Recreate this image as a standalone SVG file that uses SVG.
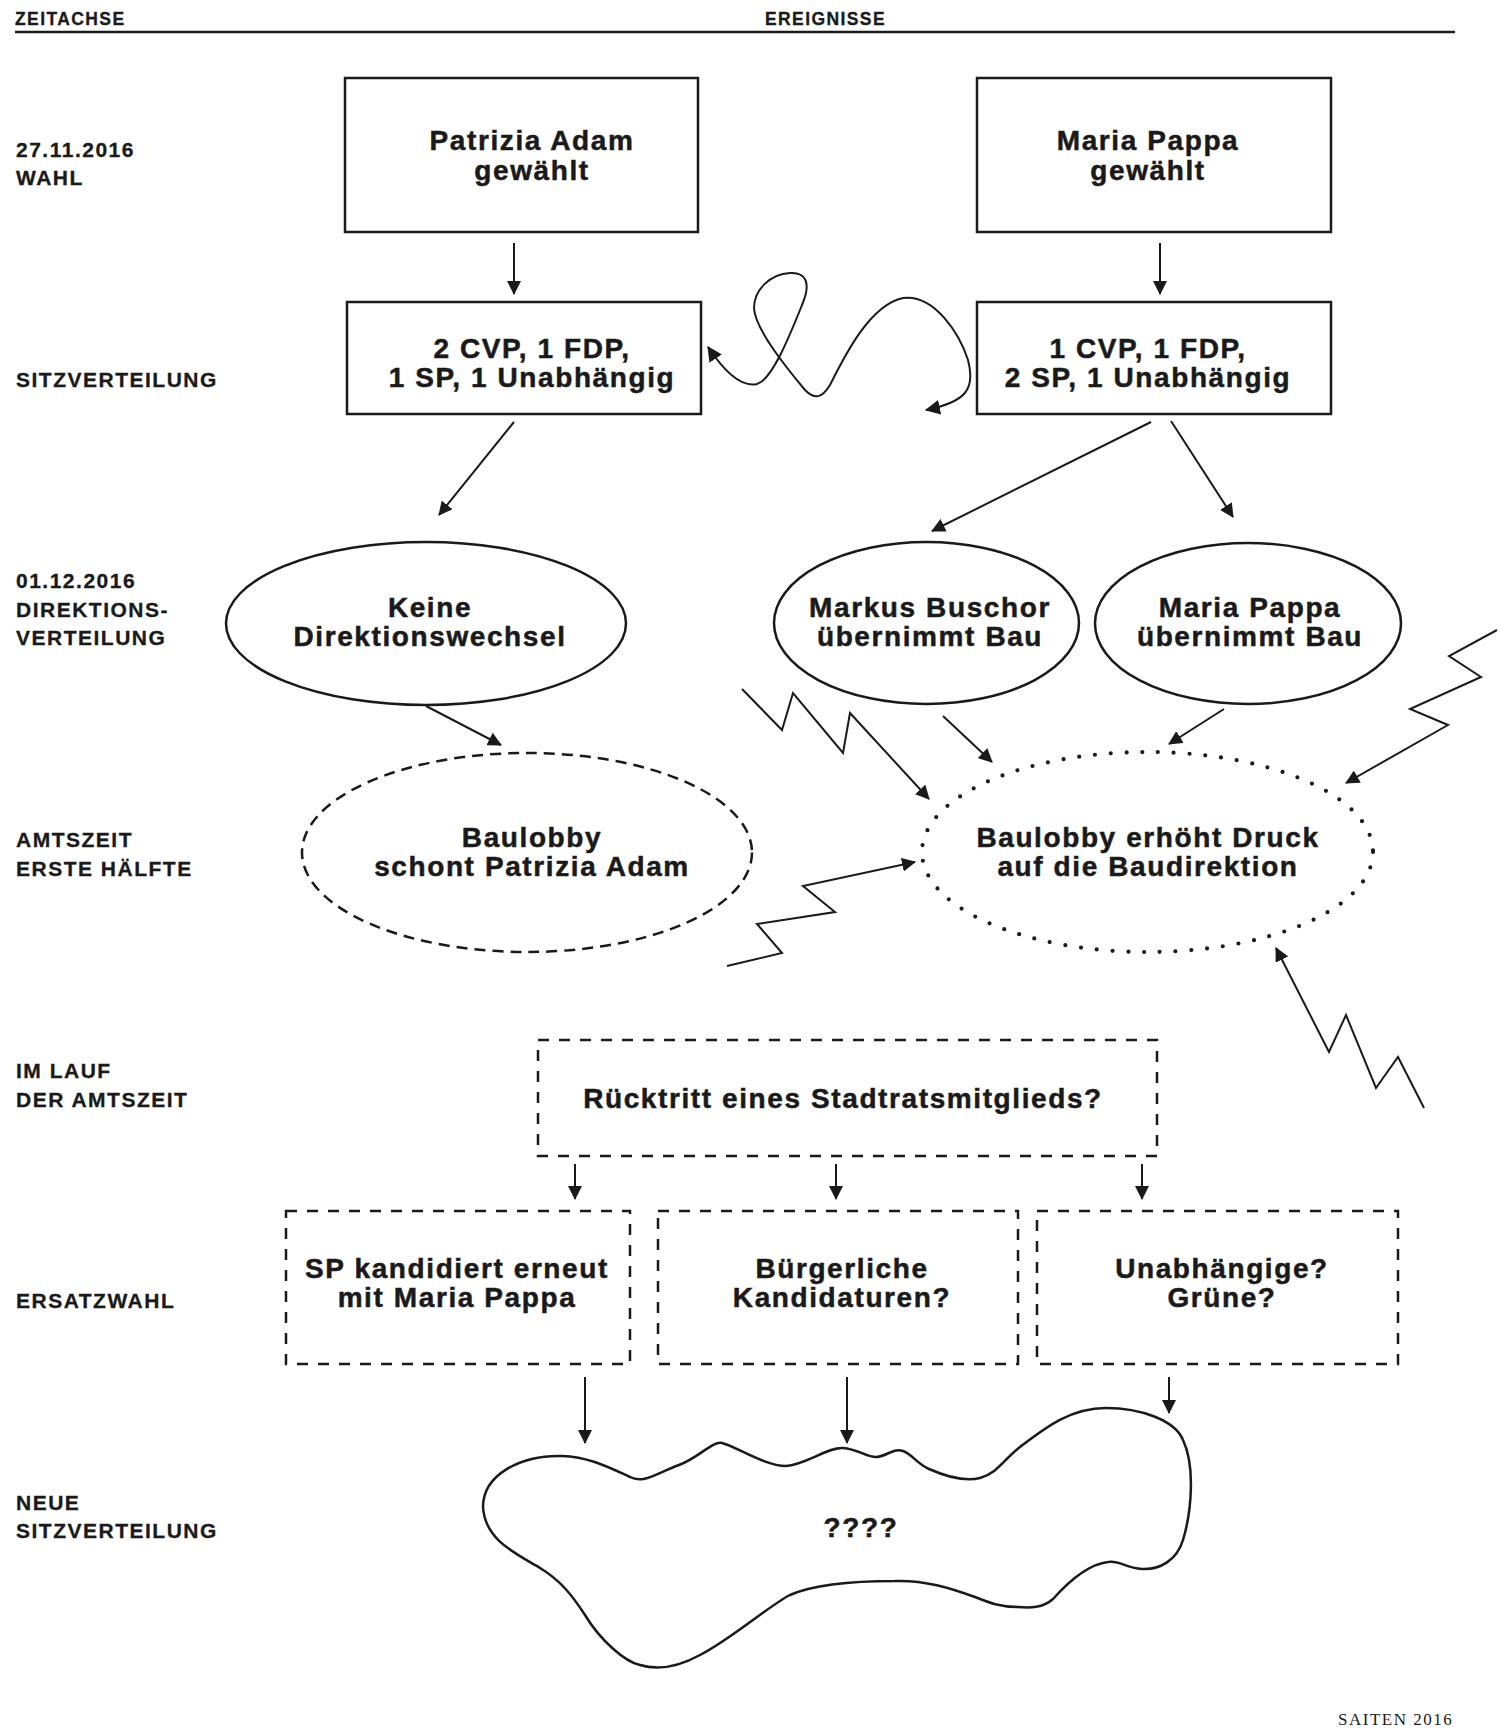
<svg xmlns="http://www.w3.org/2000/svg" width="1500" height="1734" viewBox="0 0 1500 1734">
<style>
  .n { font-family: "Liberation Sans", Arial, sans-serif; font-weight: bold; font-size: 28px; letter-spacing: 1.6px; text-anchor: middle; fill: #1a1a1a; stroke: #1a1a1a; stroke-width: 0.5; }
  .l { font-family: "Liberation Sans", Arial, sans-serif; font-weight: bold; font-size: 21px; letter-spacing: 1.5px; fill: #1a1a1a; stroke: #1a1a1a; stroke-width: 0.3; }
  .h { font-family: "Liberation Sans", Arial, sans-serif; font-weight: bold; font-size: 17.5px; letter-spacing: 1.4px; fill: #1a1a1a; stroke: #1a1a1a; stroke-width: 0.3; }
  .f { font-family: "Liberation Serif", "Times New Roman", serif; font-size: 17px; letter-spacing: 1.5px; fill: #1a1a1a; }
  .box { fill: none; stroke: #1a1a1a; stroke-width: 2.5; }
  .dash { fill: none; stroke: #1a1a1a; stroke-width: 2.5; stroke-dasharray: 11 10; }
  .dashe { fill: none; stroke: #1a1a1a; stroke-width: 2.5; stroke-dasharray: 11 7; }
  .dot { fill: none; stroke: #1a1a1a; stroke-width: 4.2; stroke-linecap: round; stroke-dasharray: 0 15.8; }
  .c { fill: none; stroke: #1a1a1a; stroke-width: 2; marker-end: url(#ah); }
</style>
<defs>
  <marker id="ah" viewBox="0 0 14 14" refX="13" refY="7" markerWidth="14" markerHeight="14" markerUnits="userSpaceOnUse" orient="auto">
    <path d="M0,0 L14,7 L0,14 z" fill="#1a1a1a"/>
  </marker>
  <marker id="ahs" viewBox="0 0 14 14" refX="13" refY="7" markerWidth="15" markerHeight="15" markerUnits="userSpaceOnUse" orient="auto-start-reverse">
    <path d="M0,0 L14,7 L0,14 z" fill="#1a1a1a"/>
  </marker>
</defs>
<rect width="1500" height="1734" fill="#ffffff"/>

<g id="header">
  <text class="h" x="15" y="25">ZEITACHSE</text>
  <text class="h" x="765" y="25">EREIGNISSE</text>
  <line x1="15" y1="32" x2="1455" y2="32" stroke="#1a1a1a" stroke-width="2.5"/>
</g>

<g id="timeline">
  <text class="l" x="16" y="157">27.11.2016</text>
  <text class="l" x="16" y="185">WAHL</text>
  <text class="l" x="16" y="387">SITZVERTEILUNG</text>
  <text class="l" x="16" y="588">01.12.2016</text>
  <text class="l" x="16" y="617">DIREKTIONS-</text>
  <text class="l" x="16" y="645">VERTEILUNG</text>
  <text class="l" x="16" y="847">AMTSZEIT</text>
  <text class="l" x="16" y="876">ERSTE HÄLFTE</text>
  <text class="l" x="16" y="1078">IM LAUF</text>
  <text class="l" x="16" y="1107">DER AMTSZEIT</text>
  <text class="l" x="16" y="1308">ERSATZWAHL</text>
  <text class="l" x="16" y="1510">NEUE</text>
  <text class="l" x="16" y="1538">SITZVERTEILUNG</text>
</g>

<g id="n-adam">
  <rect class="box" x="345" y="78" width="353" height="154"/>
  <text class="n" x="532" y="150">Patrizia Adam</text>
  <text class="n" x="532" y="180">gewählt</text>
</g>
<g id="n-pappa">
  <rect class="box" x="977" y="78" width="354" height="154"/>
  <text class="n" x="1148" y="150">Maria Pappa</text>
  <text class="n" x="1148" y="180">gewählt</text>
</g>
<g id="n-sitz1">
  <rect class="box" x="347" y="302" width="354" height="112"/>
  <text class="n" x="532" y="358">2 CVP, 1 FDP,</text>
  <text class="n" x="532" y="387">1 SP, 1 Unabhängig</text>
</g>
<g id="n-sitz2">
  <rect class="box" x="977" y="302" width="354" height="112"/>
  <text class="n" x="1148" y="358">1 CVP, 1 FDP,</text>
  <text class="n" x="1148" y="387">2 SP, 1 Unabhängig</text>
</g>
<g id="n-keine">
  <ellipse class="box" cx="426" cy="623.5" rx="200" ry="81.5"/>
  <text class="n" x="430" y="617">Keine</text>
  <text class="n" x="430" y="646">Direktionswechsel</text>
</g>
<g id="n-buschor">
  <ellipse class="box" cx="926.5" cy="623" rx="152.5" ry="81"/>
  <text class="n" x="930" y="617">Markus Buschor</text>
  <text class="n" x="930" y="646">übernimmt Bau</text>
</g>
<g id="n-pappabau">
  <ellipse class="box" cx="1248" cy="623.5" rx="153" ry="80.5"/>
  <text class="n" x="1250" y="617">Maria Pappa</text>
  <text class="n" x="1250" y="646">übernimmt Bau</text>
</g>
<g id="n-schont">
  <ellipse class="dashe" cx="527" cy="852.5" rx="225" ry="99.5"/>
  <text class="n" x="532" y="847">Baulobby</text>
  <text class="n" x="532" y="876">schont Patrizia Adam</text>
</g>
<g id="n-druck">
  <ellipse class="dot" cx="1147.5" cy="852" rx="225.5" ry="100"/>
  <text class="n" x="1148" y="847">Baulobby erhöht Druck</text>
  <text class="n" x="1148" y="876">auf die Baudirektion</text>
</g>
<g id="n-ruecktritt">
  <rect class="dash" x="538" y="1040" width="619" height="116"/>
  <text class="n" x="843" y="1108">Rücktritt eines Stadtratsmitglieds?</text>
</g>
<g id="n-sp">
  <rect class="dash" x="286" y="1211" width="344" height="153"/>
  <text class="n" x="457" y="1278">SP kandidiert erneut</text>
  <text class="n" x="457" y="1307">mit Maria Pappa</text>
</g>
<g id="n-buergerlich">
  <rect class="dash" x="658" y="1211" width="360" height="153"/>
  <text class="n" x="842" y="1278">Bürgerliche</text>
  <text class="n" x="842" y="1307">Kandidaturen?</text>
</g>
<g id="n-unabh">
  <rect class="dash" x="1037" y="1211" width="361" height="153"/>
  <text class="n" x="1222" y="1278">Unabhängige?</text>
  <text class="n" x="1222" y="1307">Grüne?</text>
</g>
<g id="n-neu">
  <path class="box" d="M 483 1507 C 483 1475, 520 1455, 562 1456 C 590 1457, 610 1468, 630 1477 C 643 1484, 655 1474, 679 1465 C 700 1457, 712 1441, 722 1443 C 735 1446, 765 1466, 786 1466 C 805 1465, 828 1447, 843 1448 C 858 1449, 868 1458, 877 1457 C 887 1456, 893 1448, 903 1451 C 912 1454, 916 1463, 929 1469 C 945 1476, 965 1482, 980 1478 C 998 1473, 1005 1458, 1020 1447 C 1045 1428, 1070 1408, 1106 1408 C 1140 1408, 1175 1420, 1183 1440 C 1195 1465, 1192 1510, 1183 1540 C 1177 1560, 1160 1570, 1142 1569 C 1125 1568, 1120 1560, 1108 1562 C 1090 1564, 1070 1580, 1053 1599 C 1043 1608, 1030 1608, 1018 1607 C 1000 1607, 990 1603, 975 1597 C 950 1588, 925 1580, 895 1581 C 855 1581, 815 1584, 790 1595 C 770 1605, 730 1640, 700 1655 C 680 1666, 660 1671, 640 1665 C 625 1662, 600 1640, 585 1615 C 572 1595, 560 1580, 540 1568 C 515 1553, 485 1540, 483 1507 Z"/>
  <text class="n" x="861" y="1537">????</text>
</g>

<g id="connectors">
  <line class="c" x1="514" y1="243" x2="514" y2="294"/>
  <line class="c" x1="1160" y1="243" x2="1160" y2="294"/>
  <path fill="none" stroke="#1a1a1a" stroke-width="2" marker-start="url(#ahs)" marker-end="url(#ahs)" d="M 708 347 C 722 368, 740 388, 757 384 C 772 380, 790 335, 802 305 C 812 282, 805 272, 790 273 C 770 274, 754 290, 754 308 C 755 330, 790 372, 805 390 C 815 400, 822 398, 830 385 C 845 355, 870 305, 903 298 C 935 294, 960 335, 968 360 C 976 390, 965 402, 926 410"/>
  <line class="c" x1="514" y1="422" x2="439" y2="515"/>
  <line class="c" x1="1151" y1="422" x2="932" y2="531"/>
  <line class="c" x1="1171" y1="421" x2="1233" y2="517"/>
  <line class="c" x1="426" y1="706" x2="501" y2="745"/>
  <line class="c" x1="943" y1="716" x2="992" y2="762"/>
  <line class="c" x1="1224" y1="709" x2="1169" y2="744"/>
  <polyline class="c" points="742,689 782,730 793,693 843,753 850,713 929,799"/>
  <polyline class="c" points="1497,630 1449,656 1481,677 1410,709 1448,725 1346,783"/>
  <polyline class="c" points="727,966 782,953 757,924 835,912 803,886 915,862"/>
  <polyline class="c" points="1424,1108 1398,1057 1376,1088 1346,1015 1329,1052 1276,948"/>
  <line class="c" x1="575" y1="1164" x2="575" y2="1199"/>
  <line class="c" x1="836" y1="1164" x2="836" y2="1199"/>
  <line class="c" x1="1142" y1="1164" x2="1142" y2="1199"/>
  <line class="c" x1="585" y1="1377" x2="585" y2="1443"/>
  <line class="c" x1="847" y1="1377" x2="847" y2="1443"/>
  <line class="c" x1="1169" y1="1377" x2="1169" y2="1413"/>
</g>

<text class="f" x="1338" y="1725">SAITEN 2016</text>
</svg>
